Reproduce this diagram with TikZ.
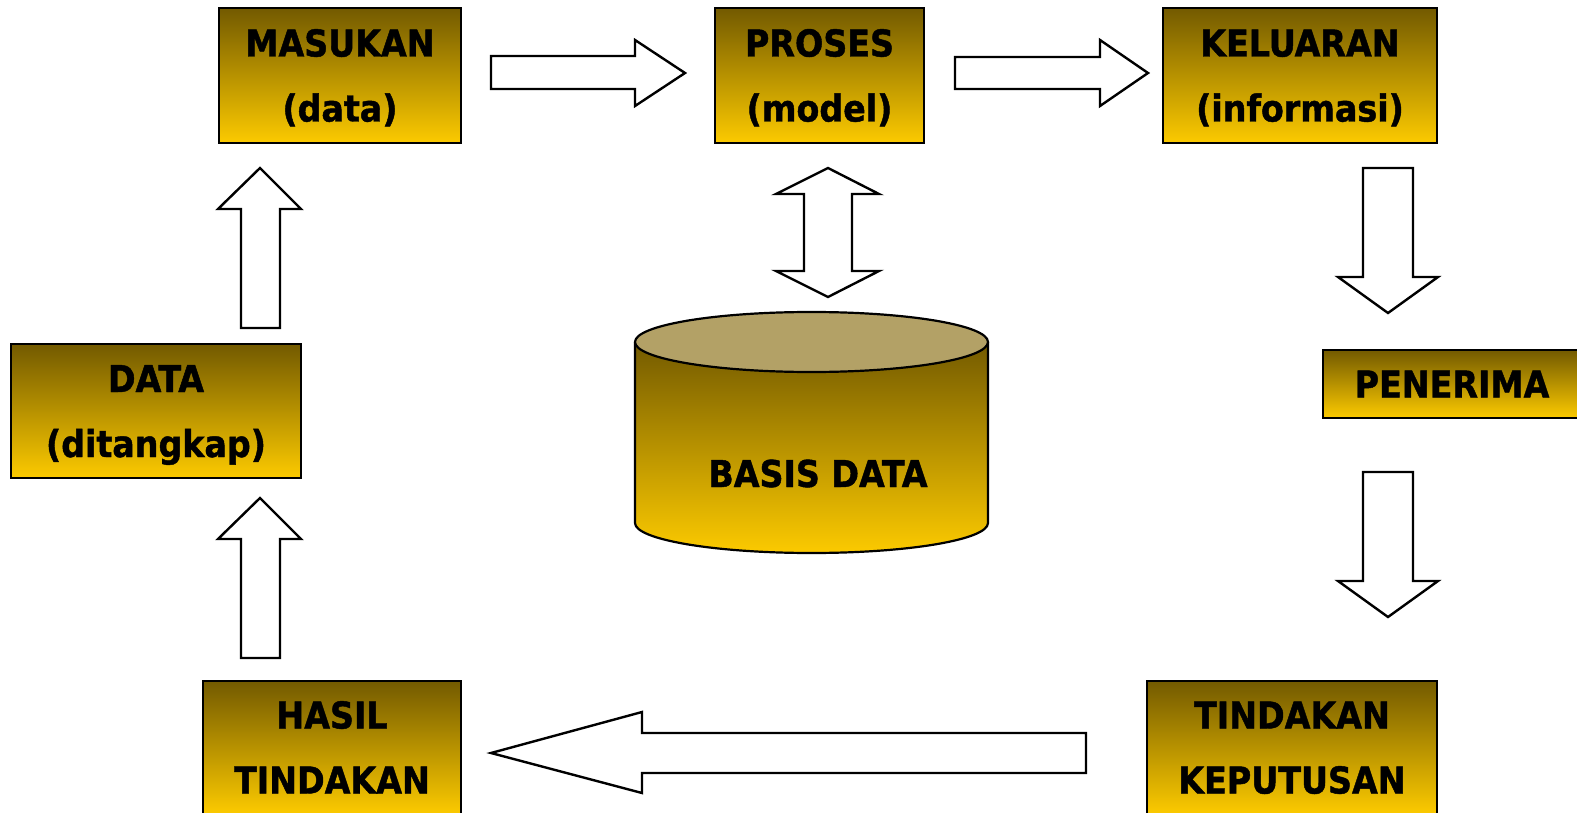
\documentclass[tikz,border=0pt]{standalone}
\usepackage{fontspec}
\newfontfamily\lblfont{DejaVu Sans Condensed}[BoldFeatures={FakeBold=1.2}]
\definecolor{goldtop}{RGB}{115,90,0}
\definecolor{goldbot}{RGB}{252,202,0}
\definecolor{captan}{RGB}{179,161,102}
\begin{document}
\begin{tikzpicture}[x=1pt,y=-1pt,
  box/.style={draw=black, line width=2.2pt, inner sep=0pt, top color=goldtop, bottom color=goldbot,
    align=center, font=\lblfont\bfseries\fontsize{37}{65}\selectfont, text height=92pt, text depth=0pt},
  onebox/.style={box, text height=27pt},
  blockarrow/.style={draw=black, fill=white, line width=2.4pt, line join=miter},
  lbl/.style={font=\lblfont\bfseries\fontsize{37}{65}\selectfont, inner sep=0pt}]
\useasboundingbox (0,0) rectangle (1577,813);
\clip (0,0) rectangle (1577,813);
\fill[white] (0,0) rectangle (1577,813);

% boxes
\node[box, minimum width=242pt, minimum height=135pt] (masukan) at (340,75.5) {MASUKAN\\(data)};
\node[box, minimum width=209pt, minimum height=135pt] (proses) at (819.5,75.5) {PROSES\\(model)};
\node[box, minimum width=274pt, minimum height=135pt] (keluaran) at (1300,75.5) {KELUARAN\\(informasi)};
\node[onebox, minimum width=258pt, minimum height=68pt] (penerima) at (1452,384) {PENERIMA};
\node[box, minimum width=290pt, minimum height=134pt] (data) at (156,411) {DATA\\(ditangkap)};
\node[box, minimum width=258pt, minimum height=133pt] (hasil) at (332,747.5) {HASIL\\TINDAKAN};
\node[box, minimum width=290pt, minimum height=133pt] (tindakan) at (1292,747.5) {TINDAKAN\\KEPUTUSAN};

% database cylinder
\shade[top color=goldtop, bottom color=goldbot] (635,342) -- (635,523)
  arc[start angle=180, end angle=0, x radius=176.5, y radius=30] -- (988,342) -- cycle;
\draw[line width=2.2pt] (635,342) -- (635,523)
  arc[start angle=180, end angle=0, x radius=176.5, y radius=30] -- (988,342);
\draw[line width=2.2pt, fill=captan] (811.5,342) ellipse[x radius=176.5, y radius=30];
\node[lbl, anchor=base] (basis) at (818,487) {BASIS DATA};

% block arrows
\draw[blockarrow] (491,56) -- (635,56) -- (635,40) -- (685,73) -- (635,106) -- (635,89) -- (491,89) -- cycle;
\draw[blockarrow] (955,57) -- (1100,57) -- (1100,40) -- (1148,73) -- (1100,106) -- (1100,89) -- (955,89) -- cycle;
\draw[blockarrow] (828,168) -- (879,194) -- (852,194) -- (852,271) -- (879,271) -- (828,297)
  -- (776,271) -- (804,271) -- (804,194) -- (776,194) -- cycle;
\draw[blockarrow] (1363,168) -- (1413,168) -- (1413,277) -- (1438,277) -- (1388,313) -- (1338,277) -- (1363,277) -- cycle;
\draw[blockarrow] (1363,472) -- (1413,472) -- (1413,581) -- (1438,581) -- (1388,617) -- (1338,581) -- (1363,581) -- cycle;
\draw[blockarrow] (1086,733) -- (642,733) -- (642,712) -- (491,753) -- (642,793) -- (642,773) -- (1086,773) -- cycle;
\draw[blockarrow] (260,168) -- (301,209) -- (280,209) -- (280,328) -- (241,328) -- (241,209) -- (218,209) -- cycle;
\draw[blockarrow] (260,498) -- (301,539) -- (280,539) -- (280,658) -- (241,658) -- (241,539) -- (218,539) -- cycle;
\end{tikzpicture}
\end{document}
